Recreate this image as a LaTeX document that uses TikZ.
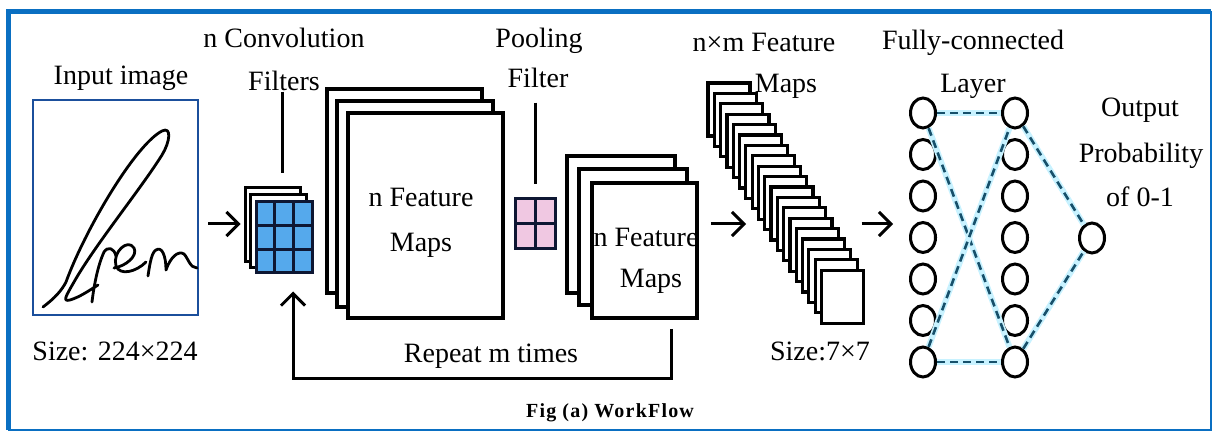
\documentclass[tikz,border=0pt]{standalone}
\usepackage{fontspec}
\setmainfont{Liberation Serif}
\newfontfamily\capfont[LetterSpace=6]{Liberation Serif}
\usetikzlibrary{positioning, fit, arrows.meta, shapes.geometric}

\definecolor{frameblue}{HTML}{0A6FC2}
\definecolor{imgblue}{HTML}{1B4F9C}
\definecolor{cellblue}{HTML}{55A9EC}
\definecolor{cellpink}{HTML}{F0C8E2}
\definecolor{gridline}{HTML}{0E1733}
\definecolor{fcdash}{HTML}{17506B}
\definecolor{fcglow}{HTML}{C8F2FF}

\begin{document}
\begin{tikzpicture}[x=0.5pt, y=-0.5pt,
    lbl/.style={font=\fontsize{14}{17}\selectfont, inner sep=0pt, anchor=base},
    sheet/.style={draw, line width=1.8pt, fill=white, inner sep=0pt},
    thinsheet/.style={sheet, line width=1.6pt},
    flow/.style={line width=1.5pt, -{Straight Barb[length=6pt, width=12pt]}},
    stem/.style={line width=1.5pt},
    sig/.style={line width=1.4pt, line cap=round, line join=round},
    neuron/.style={ellipse, draw, line width=1.5pt, minimum width=12.5pt, minimum height=15pt, inner sep=0pt},
    fclink/.style={fcdash, line width=1.3pt, dash pattern=on 4pt off 2.5pt,
        preaction={draw=fcglow, line width=3pt, solid}}]

    \useasboundingbox (0,0) rectangle (1213,432);

    % Frame
    \draw[frameblue, line width=1pt] (9,430) rectangle (1211,12);
    \draw[frameblue, line width=2.5pt] (8.5,430) |- (1211,11.5);

    % Input image with signature
    \node[draw=imgblue, line width=1.3pt, fit={(33,100)(198,315)}, inner sep=0pt] (inputImg) {};
    \draw[sig] (43,307) .. controls (55,298) and (62,290) .. (66,282)
        .. controls (85,230) and (135,145) .. (162,131)
        .. controls (172,126) and (170,142) .. (162,155)
        .. controls (140,190) and (95,245) .. (74,282)
        .. controls (66,296) and (62,302) .. (70,300)
        .. controls (80,297) and (90,290) .. (98,285);
    \draw[sig] (92,302) .. controls (94,285) and (98,265) .. (104,252) .. controls (108,246) and (114,248) .. (116,256);
    \draw[sig] (114,268) .. controls (126,266) and (138,256) .. (134,248) .. controls (128,238) and (112,252) .. (116,266) .. controls (120,276) and (136,272) .. (146,262);
    \draw[sig] (148,276) .. controls (150,262) and (152,252) .. (156,250) .. controls (162,246) and (166,256) .. (166,270)
        .. controls (170,258) and (178,250) .. (184,254) .. controls (188,258) and (190,268) .. (197,268);
    \node[lbl] (inputLbl) at (121,85) {Input image};
    \node[lbl] (inputSize) at (115,360) {Size: 224×224};

    % Convolution filters
    \node[sheet, line width=1.5pt, fit={(245,188)(300,262)}] (convBack1) {};
    \node[sheet, line width=1.5pt, fit={(250,195)(306,268)}] (convBack2) {};
    \node[draw=gridline, fill=cellblue, line width=1.5pt, fit={(256,202)(312,273)}, inner sep=0pt] (convFilter) {};
    \foreach \c in {1,2} {
        \draw[gridline, line width=1.5pt] (256+\c*18.67,202) -- (256+\c*18.67,273);
        \draw[gridline, line width=1.5pt] (256,202+\c*23.67) -- (312,202+\c*23.67);
    }
    \node[lbl] (convLbl) at (284,48) {n Convolution};
    \node[lbl] (filtLbl) at (284,91) {Filters};
    \draw[stem] (filtLbl.south -| 282,0) -- ([yshift=6.5pt]convBack1.north -| 282,0);

    % First feature maps
    \node[sheet, fit={(327,89)(482,293)}] (mapsA1) {};
    \node[sheet, fit={(337,101)(493,307)}] (mapsA2) {};
    \node[sheet, fit={(348,113)(503,318)}] (mapsA3) {};
    \node[lbl] at (421,207) {n Feature};
    \node[lbl] at (421,252) {Maps};

    % Pooling filter
    \node[draw=gridline, fill=cellpink, line width=1.5pt, fit={(515,199)(555,249)}, inner sep=0pt] (poolFilter) {};
    \draw[gridline, line width=1.5pt] (535,199) -- (535,249) (515,224) -- (555,224);
    \node[lbl] (poolLbl) at (539,48) {Pooling};
    \node[lbl] (poolLbl2) at (538,88) {Filter};
    \draw[stem] ([yshift=-7pt]poolLbl2.south -| poolFilter) -- ([yshift=6.5pt]poolFilter.north);

    % Second feature maps
    \node[sheet, fit={(567,156)(675,293)}] (mapsB1) {};
    \node[sheet, fit={(579,169)(687,305)}] (mapsB2) {};
    \node[sheet, fit={(592,183)(697,318)}] (mapsB3) {};
    \node[lbl] at (646,247) {n Feature};
    \node[lbl] at (651,288) {Maps};

    % n x m feature maps
    \foreach \i in {0,...,18}
        \node[thinsheet, fit={(708+6.3*\i,83+10.4*\i)(750+6.3*\i,136+10.4*\i)}] (stk\i) {};
    \node[lbl] (stkLbl) at (764,52) {n×m Feature};
    \node[lbl] (stkLbl2) at (786,93) {Maps};
    \node[lbl] (stkSize) at (820,360) {Size:7×7};

    % Fully-connected layers
    \foreach \k in {0,...,6} {
        \node[neuron] (h\k) at (923,113+41.5*\k) {};
        \node[neuron] (g\k) at (1015,113+41.5*\k) {};
    }
    \node[neuron] (out) at (1092,238) {};
    \draw[fclink] (h0) -- (g0);
    \draw[fclink] (h6) -- (g6);
    \draw[fclink] (h0) -- (g6);
    \draw[fclink] (h6) -- (g0);
    \draw[fclink] (g0) -- (out);
    \draw[fclink] (g6) -- (out);
    \node[lbl] (fcLbl) at (973,50) {Fully-connected};
    \node[lbl] (fcLbl2) at (973,93) {Layer};
    \node[lbl] (outLbl) at (1140,117) {Output};
    \node[lbl] (outLbl2) at (1141,163) {Probability};
    \node[lbl] (outLbl3) at (1140,207) {of 0-1};

    % Arrows
    \coordinate (rowY) at (0,224);
    \draw[flow, shorten <=4.5pt, shorten >=1.5pt] (inputImg.east |- rowY) -- (convBack1.west |- rowY);
    \draw[flow, shorten <=6pt, shorten >=8.5pt] (mapsB3.east |- rowY) -- (stk9.west |- rowY);
    \draw[flow, shorten <=14pt, shorten >=8pt] (stk13.east |- rowY) -- (h3.west |- rowY);
    \draw[flow] ([xshift=13.5pt, yshift=-4.5pt]mapsB3.south) -- ++(0,50) -| ([xshift=4.5pt, yshift=-8.5pt]convFilter.south);
    \node[lbl] (repLbl) at (491,362) {Repeat m times};

    % Caption
    \node[inner sep=0pt, anchor=base, font=\capfont\bfseries\fontsize{10}{12}\selectfont] (figCap) at (610,417) {Fig (a) WorkFlow};
\end{tikzpicture}
\end{document}
